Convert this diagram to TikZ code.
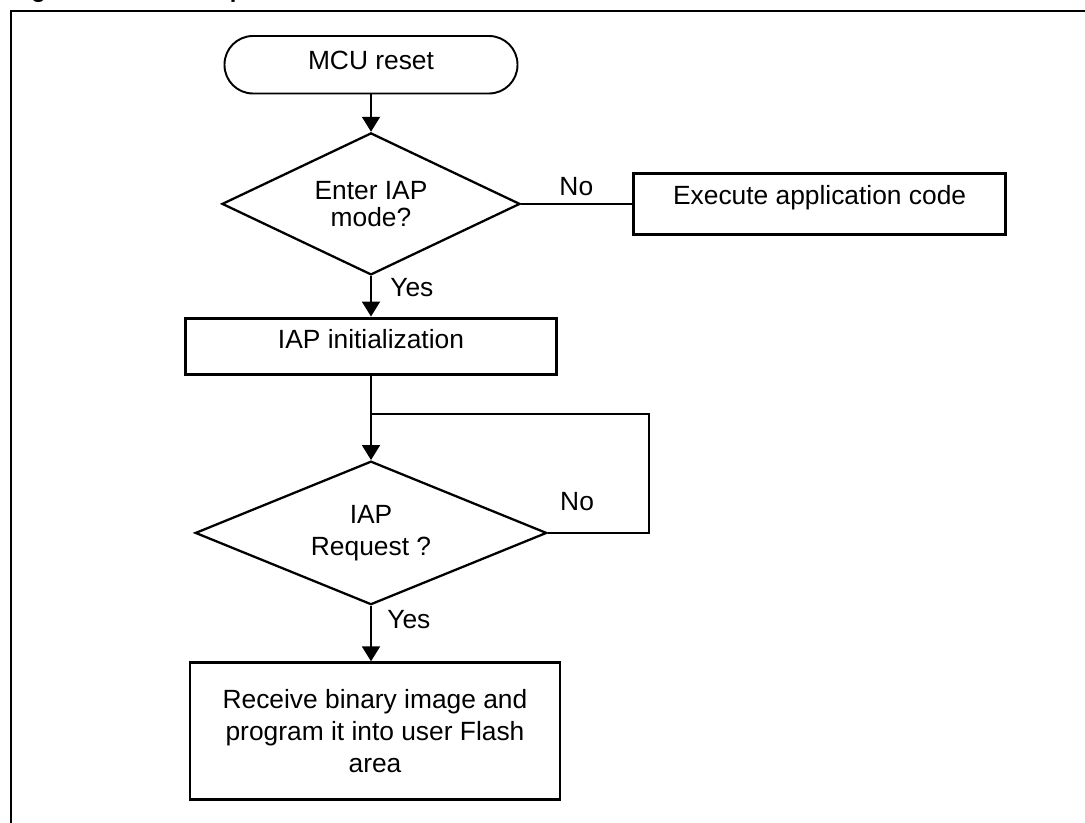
\documentclass[tikz,border=0pt]{standalone}
\usepackage{fontspec}
\setmainfont{Liberation Sans}
\usetikzlibrary{positioning,shapes.geometric,arrows.meta}

\begin{document}
\begin{tikzpicture}[
    >={Triangle[width=0.36cm,length=0.3cm]},
    every node/.style={font=\fontsize{15pt}{18.2pt}\selectfont},
    box/.style={draw, line width=1.7pt, rectangle, inner sep=0pt, align=center},
    term/.style={draw, line width=1.1pt, rounded corners=0.57cm, inner sep=0pt},
    test/.style={draw, line width=1.3pt, diamond, aspect=2.1, inner sep=0pt, align=center},
    lbl/.style={inner sep=0pt},
    flow/.style={line width=1.1pt}]
            \useasboundingbox (0,0) rectangle (21.7,-16.46);

            \node[lbl, font=\bfseries\fontsize{13.5pt}{16pt}\selectfont, anchor=base west] (title) at (0.2,0.04) {Figure 1.\hspace{1.2cm}IAP operation flow};
            \draw[flow] (21.8,-0.22) -| (0.22,-16.6);

            \node[term, minimum width=5.86cm, minimum height=1.15cm, text height=0.376cm, text depth=0.19cm] (reset) at (7.42,-1.295) {MCU reset};
            \node[test, minimum width=5.96cm, minimum height=2.84cm, below=0.746cm of reset] (enter) {Enter IAP\\[-0.1cm]mode?};
            \node[box, minimum width=7.44cm, minimum height=1.21cm, text height=0.376cm, text depth=0.34cm, right=2.22cm of enter] (exec) {Execute application code};
            \node[box, minimum width=7.41cm, minimum height=1.13cm, text height=0.376cm, text depth=0.276cm, below=0.81cm of enter] (init) {IAP initialization};
            \coordinate[below=0.76cm of init.south] (join);
            \node[test, minimum width=7.03cm, minimum height=2.87cm, below=1.68cm of init] (req) {IAP\\Request ?};
            \node[box, minimum width=7.4cm, minimum height=2.73cm, below=1.11cm of req, xshift=0.08cm] (recv) {Receive binary image and\\program it into user Flash\\area};

            \node[lbl, above right=0.146cm and 0.76cm of enter.east] (no1) {No};
            \node[lbl, below right=0.034cm and 0.38cm of enter.south] (yes1) {Yes};
            \node[lbl, above right=0.446cm and 0.24cm of req.east] (no2) {No};
            \node[lbl, below right=0.086cm and 0.32cm of req.south] (yes2) {Yes};

            \path[flow, ->]
            (reset) edge (enter)
            (enter) edge (init)
            (init) edge (req)
            (req.south) edge (req.south |- recv.north);
            \draw[flow] (enter) -- (exec);
            \draw[flow] (req.east) -- ++(2.03,0) |- (join);

        \end{tikzpicture}
\end{document}
